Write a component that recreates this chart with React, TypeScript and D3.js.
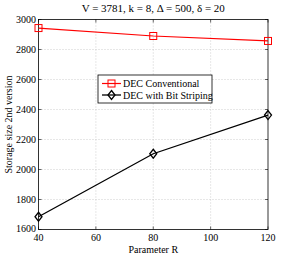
import React from "react";
import * as d3 from "d3";

const paramR = [40, 80, 120];
const conventional = [2943, 2890, 2857];
const bitStriping = [1685, 2105, 2363];
const xTicks = [40, 60, 80, 100, 120];
const yTicks = [1600, 1800, 2000, 2200, 2400, 2600, 2800, 3000];

const W = 296, H = 259;
const m = { left: 38.5, right: 268, top: 19.5, bottom: 229.5 };
const font = "'Liberation Serif', 'DejaVu Serif', serif";

const App = () => {
  const x = d3.scaleLinear().domain([40, 120]).range([m.left, m.right]);
  const y = d3.scaleLinear().domain([1600, 3000]).range([m.bottom, m.top]);
  const line = d3.line<number>().x((_, i) => x(paramR[i])).y(d => y(d));

  const square = (cx: number, cy: number, k: string) => (
    <rect key={k} x={cx - 3.5} y={cy - 3.5} width={7} height={7} fill="none" stroke="#ff0000" strokeWidth={1} />
  );
  const diamond = (cx: number, cy: number, k: string) => (
    <path key={k} d={`M${cx},${cy - 4.5}L${cx + 3.5},${cy}L${cx},${cy + 4.5}L${cx - 3.5},${cy}Z`}
      fill="none" stroke="#000" strokeWidth={1.3} />
  );

  const lg = { x: 98, y: 75, w: 114, h: 28 };

  return (
    <svg width={W} height={H} style={{ position: "absolute", left: 0, top: 0, background: "#fff" }}
      fontFamily={font}>
      <rect width={W} height={H} fill="#fff" />
      {/* grid */}
      {xTicks.slice(1, -1).map(t => (
        <line key={"gx" + t} x1={x(t)} x2={x(t)} y1={m.top} y2={m.bottom} stroke="#bbb" strokeWidth={0.7} strokeDasharray="1,2" />
      ))}
      {yTicks.slice(1, -1).map(t => (
        <line key={"gy" + t} x1={m.left} x2={m.right} y1={y(t)} y2={y(t)} stroke="#bbb" strokeWidth={0.7} strokeDasharray="1,2" />
      ))}
      {/* ticks */}
      {xTicks.map(t => (
        <g key={"tx" + t}>
          <line x1={x(t)} x2={x(t)} y1={m.bottom} y2={m.bottom - 3} stroke="#000" strokeWidth={0.6} />
          <line x1={x(t)} x2={x(t)} y1={m.top} y2={m.top + 3} stroke="#000" strokeWidth={0.6} />
          <text x={x(t)} y={m.bottom + 11} fontSize={10} textAnchor="middle">{t}</text>
        </g>
      ))}
      {yTicks.map(t => (
        <g key={"ty" + t}>
          <line x1={m.left} x2={m.left + 3} y1={y(t)} y2={y(t)} stroke="#000" strokeWidth={0.6} />
          <line x1={m.right} x2={m.right - 3} y1={y(t)} y2={y(t)} stroke="#000" strokeWidth={0.6} />
          <text x={m.left - 2.5} y={y(t) + (t === 1600 ? 2.5 : 3.5)} fontSize={10} textAnchor="end">{t}</text>
        </g>
      ))}
      <rect x={m.left} y={m.top} width={m.right - m.left} height={m.bottom - m.top} fill="none" stroke="#000" strokeWidth={0.8} />
      {/* series */}
      <path d={line(conventional) ?? ""} fill="none" stroke="#ff0000" strokeWidth={1.2} />
      {conventional.map((v, i) => square(x(paramR[i]), y(v), "s" + i))}
      <path d={line(bitStriping) ?? ""} fill="none" stroke="#000" strokeWidth={1.3} />
      {bitStriping.map((v, i) => diamond(x(paramR[i]), y(v), "d" + i))}
      {/* legend */}
      <rect x={lg.x} y={lg.y} width={lg.w} height={lg.h} fill="#fff" stroke="#000" strokeWidth={0.8} />
      <line x1={lg.x + 4} x2={lg.x + 23} y1={lg.y + 8.5} y2={lg.y + 8.5} stroke="#ff0000" strokeWidth={1.2} />
      {square(lg.x + 13.5, lg.y + 8.5, "ls")}
      <text x={lg.x + 25} y={lg.y + 12} fontSize={10}>DEC Conventional</text>
      <line x1={lg.x + 4} x2={lg.x + 23} y1={lg.y + 20} y2={lg.y + 20} stroke="#000" strokeWidth={1.3} />
      {diamond(lg.x + 13.5, lg.y + 20, "ld")}
      <text x={lg.x + 25} y={lg.y + 23.5} fontSize={10}>DEC with Bit Striping</text>
      {/* labels */}
      <text x={(m.left + m.right) / 2} y={12} fontSize={11} textAnchor="middle">
        V = 3781, k = 8, Δ = 500, δ = 20
      </text>
      <text x={(m.left + m.right) / 2} y={252.5} fontSize={10} textAnchor="middle">Parameter R</text>
      <text transform={`translate(12,${(m.top + m.bottom) / 2}) rotate(-90)`} fontSize={10} textAnchor="middle">
        Storage size 2nd version
      </text>
    </svg>
  );
};

export default App;
